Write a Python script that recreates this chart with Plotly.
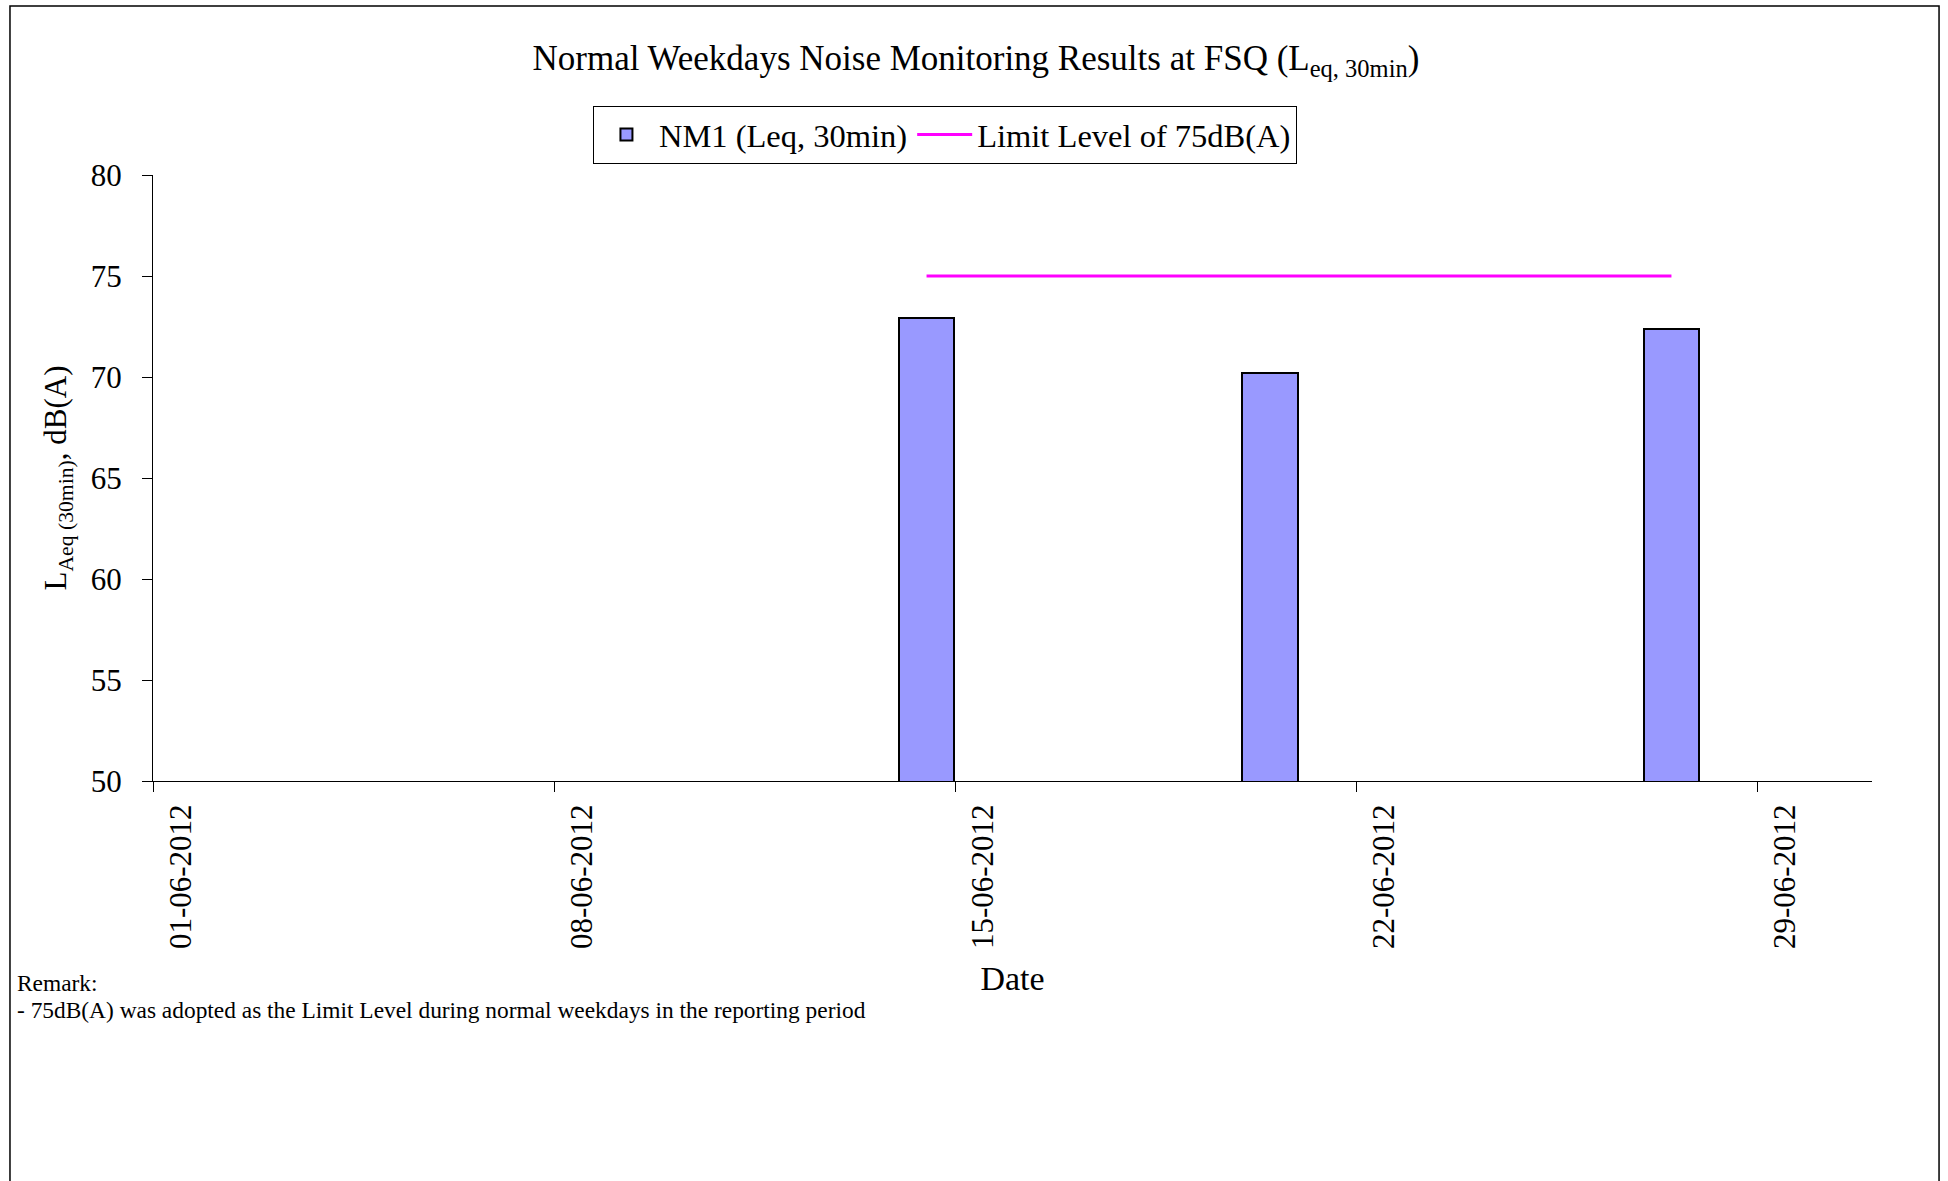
import plotly.graph_objects as go

# measurement dates and LAeq(30min) values, dB(A)
dates = ["2012-06-14", "2012-06-20", "2012-06-27"]
nm1_leq = [72.9, 70.2, 72.4]
limit_level = [75, 75, 75]

series_names = ["NM1 (Leq, 30min)", "Limit Level of 75dB(A)"]
remark_lines = [
    "Remark:",
    "- 75dB(A) was adopted as the Limit Level during normal weekdays in the reporting period",
]

DAY_MS = 86400000
FONT = "Liberation Serif"

fig = go.Figure()

fig.add_trace(go.Bar(
    x=dates,
    y=nm1_leq,
    xperiod=DAY_MS,
    xperiodalignment="middle",
    width=0.975 * DAY_MS,
    name=series_names[0],
    marker=dict(color="#9999FF", line=dict(color="black", width=2)),
))

fig.add_trace(go.Scatter(
    x=dates,
    y=limit_level,
    xperiod=DAY_MS,
    xperiodalignment="middle",
    mode="lines",
    name=series_names[1],
    line=dict(color="#FF00FF", width=3),
))

# remark text below the chart
for i, txt in enumerate(remark_lines):
    fig.add_annotation(
        text=txt, xref="paper", yref="paper",
        x=-0.0805, y=-0.333 - 0.045 * i,
        xanchor="left", yanchor="middle",
        showarrow=False, font=dict(family=FONT, size=23.4, color="black"),
    )

# outer chart border
fig.add_shape(
    type="rect", xref="paper", yref="paper",
    x0=-0.0832, x1=1.039, y0=-0.67, y1=1.279,
    line=dict(color="black", width=1.5), layer="below",
)

fig.update_layout(
    width=1948, height=1181, autosize=False,
    margin=dict(l=153, r=76, t=175, b=400),
    plot_bgcolor="white", paper_bgcolor="white",
    font=dict(family=FONT, color="black", size=31),
    title=dict(
        text="Normal Weekdays Noise Monitoring Results at FSQ (L<sub>eq, 30min</sub>)",
        x=0.501, xanchor="center", y=0.951, yanchor="middle", yref="container",
        font=dict(family=FONT, size=35, color="black"),
    ),
    legend=dict(
        orientation="h", x=0.4607, xanchor="center", y=1.114, yanchor="top",
        bgcolor="white", bordercolor="black", borderwidth=1,
        itemwidth=55,
        font=dict(family=FONT, size=32.5, color="black"),
    ),
    bargap=0,
    showlegend=True,
)

fig.update_xaxes(
    type="date",
    range=["2012-06-01", "2012-07-01"],
    tick0="2012-06-01", dtick=7 * DAY_MS,
    tickformat="%d-%m-%Y", tickangle=-90,
    ticks="outside", ticklen=10, tickcolor="black",
    ticklabelshift=28,
    showline=True, linecolor="black", linewidth=1,
    showgrid=False, zeroline=False,
    tickfont=dict(family=FONT, size=31),
    title=dict(text="Date", standoff=18, font=dict(family=FONT, size=34)),
)

fig.update_yaxes(
    range=[50, 80], dtick=5,
    ticks="outside", ticklen=10, tickcolor="black",
    ticklabelstandoff=14,
    showline=True, linecolor="black", linewidth=1,
    showgrid=False, zeroline=False,
    tickfont=dict(family=FONT, size=31),
    title=dict(text="L<sub>Aeq (30min)</sub>, dB(A)", standoff=14,
               font=dict(family=FONT, size=31)),
)

# drop the default page margin so the figure sits at the window corner
fig.write_html("out.html", config={"displayModeBar": False},
               post_script="document.body.style.margin='0';")
